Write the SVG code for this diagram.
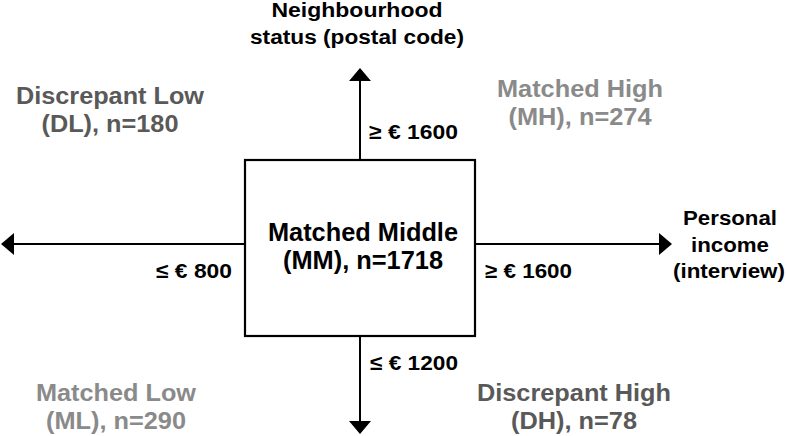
<svg xmlns="http://www.w3.org/2000/svg" width="787" height="436" viewBox="0 0 787 436">
<style>
text{font-family:"Liberation Sans",Arial,Helvetica,sans-serif;font-weight:bold;}
.mm{font-size:25px;fill:#000;text-anchor:middle;}
.grp{font-size:23px;text-anchor:middle;}
.dark{fill:#595959;}
.light{fill:#8a8a8a;}
.ax{font-size:20px;fill:#000;text-anchor:middle;}
.th{font-size:21px;fill:#000;}
.ln{stroke:#000;stroke-width:2;fill:none;}
</style>
<defs>
<marker id="ah" viewBox="0 0 13 22" refX="0" refY="11" markerWidth="13" markerHeight="22" markerUnits="userSpaceOnUse" orient="auto">
<path d="M0,0 L13,11 L0,22 Z" fill="#000"/>
</marker>
</defs>
<rect width="787" height="436" fill="#fff"/>
<g id="connectors">
<path class="ln" d="M360,160 V81" marker-end="url(#ah)"/>
<path class="ln" d="M360,336 V421" marker-end="url(#ah)"/>
<path class="ln" d="M245,244 H14" marker-end="url(#ah)"/>
<path class="ln" d="M475,244 H659" marker-end="url(#ah)"/>
</g>
<g id="thresholds">
<text class="th" x="369" y="139" textLength="89" lengthAdjust="spacingAndGlyphs">≥ € 1600</text>
<text class="th" x="156" y="278" textLength="76" lengthAdjust="spacingAndGlyphs">≤ € 800</text>
<text class="th" x="485" y="278" textLength="87" lengthAdjust="spacingAndGlyphs">≥ € 1600</text>
<text class="th" x="370" y="370" textLength="88" lengthAdjust="spacingAndGlyphs">≤ € 1200</text>
</g>
<g id="MM">
<rect x="245" y="160" width="230" height="176" fill="#fff" stroke="#000" stroke-width="2.2"/>
<text class="mm" x="363" y="241" textLength="190" lengthAdjust="spacingAndGlyphs">Matched Middle</text>
<text class="mm" x="363" y="269" textLength="160" lengthAdjust="spacingAndGlyphs">(MM), n=1718</text>
</g>
<g id="yaxis">
<text class="ax" x="357" y="17" textLength="171" lengthAdjust="spacingAndGlyphs">Neighbourhood</text>
<text class="ax" x="357" y="44" textLength="214" lengthAdjust="spacingAndGlyphs">status (postal code)</text>
</g>
<g id="xaxis">
<text class="ax" x="730" y="225" textLength="94" lengthAdjust="spacingAndGlyphs">Personal</text>
<text class="ax" x="730" y="252" textLength="78" lengthAdjust="spacingAndGlyphs">income</text>
<text class="ax" x="729" y="278" textLength="112" lengthAdjust="spacingAndGlyphs">(interview)</text>
</g>
<g id="DL">
<text class="grp dark" x="110" y="104" textLength="188" lengthAdjust="spacingAndGlyphs">Discrepant Low</text>
<text class="grp dark" x="110" y="132" textLength="137" lengthAdjust="spacingAndGlyphs">(DL), n=180</text>
</g>
<g id="MH">
<text class="grp light" x="580" y="97" textLength="166" lengthAdjust="spacingAndGlyphs">Matched High</text>
<text class="grp light" x="580" y="125" textLength="143" lengthAdjust="spacingAndGlyphs">(MH), n=274</text>
</g>
<g id="ML">
<text class="grp light" x="116" y="401" textLength="160" lengthAdjust="spacingAndGlyphs">Matched Low</text>
<text class="grp light" x="116" y="429" textLength="140" lengthAdjust="spacingAndGlyphs">(ML), n=290</text>
</g>
<g id="DH">
<text class="grp dark" x="574" y="401" textLength="194" lengthAdjust="spacingAndGlyphs">Discrepant High</text>
<text class="grp dark" x="574" y="429" textLength="126" lengthAdjust="spacingAndGlyphs">(DH), n=78</text>
</g>
</svg>
